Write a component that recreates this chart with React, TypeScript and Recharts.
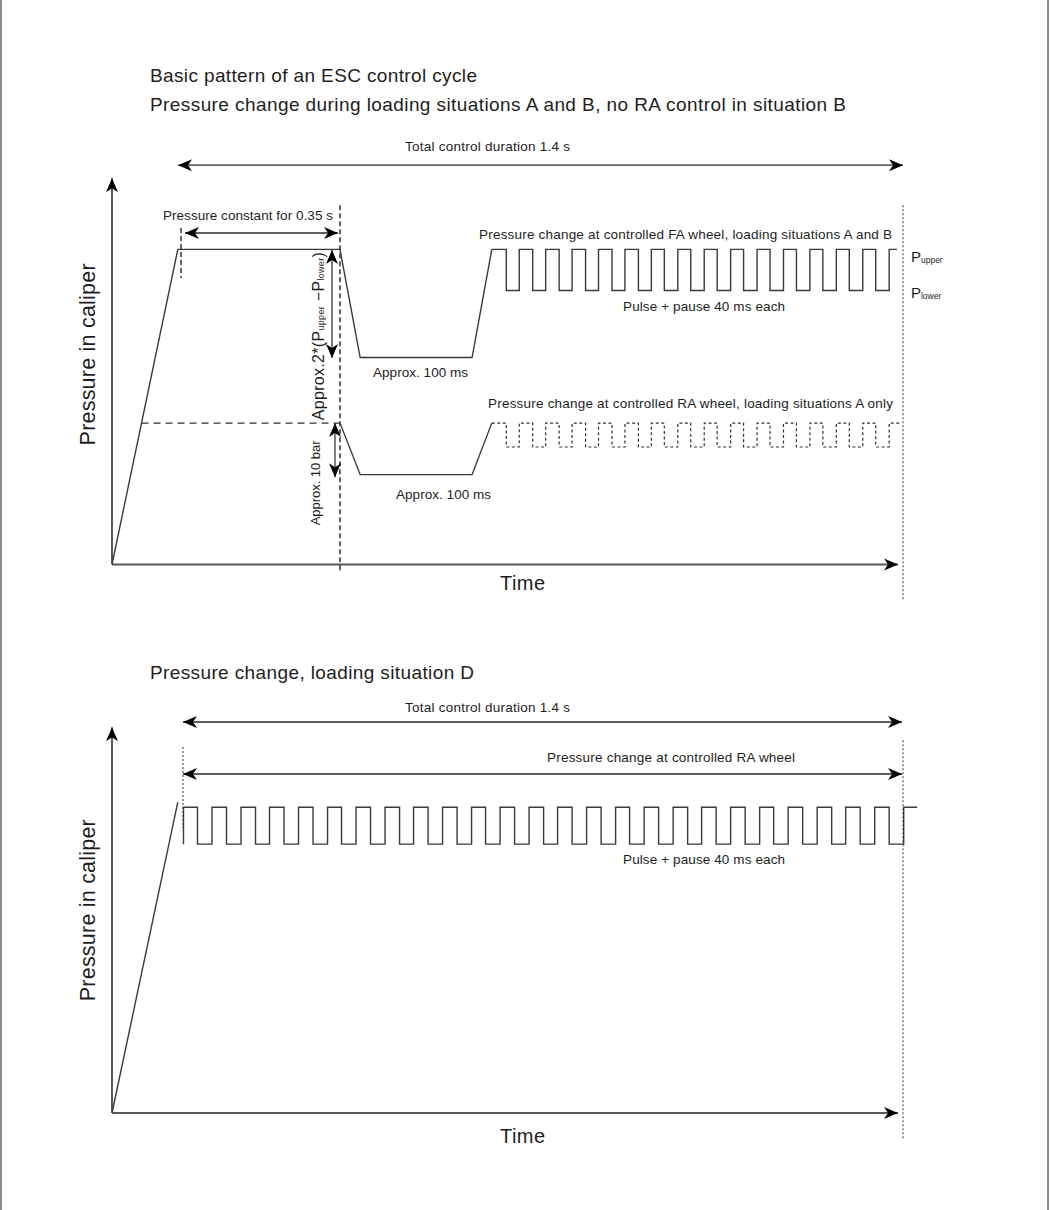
import React from 'react';
import { LineChart, Line, XAxis, YAxis, ReferenceLine, ReferenceDot } from 'recharts';

const FONT = '"Liberation Sans", Arial, Helvetica, sans-serif';
const INK = '#1e1e1e';
const WAVE = '#3a3a3a';
const AXIS = '#5a5a5a';

// ---------- Top diagram (time in ms, pressure in bar) ----------
const faProfileTime = [0, 127, 440, 479, 695, 733];
const faProfileBar = [0, 60.6, 60.6, 39.8, 39.8, 60.6];
// alternating down / up edges of the FA pulse train
const faPulseEdgesMs = [761, 786, 812, 837, 863, 888, 914, 939, 965, 990, 1016, 1041, 1066, 1092, 1117, 1143, 1168, 1194, 1219, 1245, 1270, 1296, 1321, 1347, 1372, 1398, 1423, 1449, 1474, 1500];
const faPulseLevels = [60.6, 52.7]; // P upper, P lower
const faPulseEndMs = 1515;

const raHoldTime = [57, 440];
const raHoldBar = [27.2, 27.2];
const raDipTime = [440, 479, 695, 733];
const raDipBar = [27.2, 17.3, 17.3, 27.2];
const raPulseLevels = [27.2, 22.6];
const raPulseEndMs = 1521;

// ---------- Bottom diagram ----------
const dRampTime = [0, 127];
const dRampBar = [0, 59.8];
// alternating up / down edges of the RA pulse train, situation D
const dPulseEdgesMs = [138, 165, 193, 221, 249, 277, 304, 332, 360, 388, 416, 443, 471, 499, 527, 555, 582, 610, 638, 666, 694, 721, 749, 777, 805, 833, 860, 888, 916, 944, 972, 999, 1027, 1055, 1083, 1111, 1138, 1166, 1194, 1222, 1250, 1277, 1305, 1333, 1361, 1389, 1416, 1444, 1472, 1500, 1528];
const dPulseLevels = [58.8, 51.7];
const dPulseEndMs = 1554;

// ---------- builders ----------
const zip = (ts: number[], ps: number[]) => ts.map((t, i) => ({ t, p: ps[i] }));
const pulsesFromHigh = (start: number, edges: number[], lv: number[], end: number) => [
  { t: start, p: lv[0] },
  ...edges.map((t, i) => ({ t, p: i % 2 === 0 ? lv[1] : lv[0] })),
  { t: end, p: lv[0] },
];
const pulsesFromLow = (edges: number[], lv: number[], end: number) => [
  { t: edges[0], p: lv[1] },
  ...edges.map((t, i) => ({ t, p: i % 2 === 0 ? lv[0] : lv[1] })),
  { t: end, p: lv[0] },
];

const faProfile = zip(faProfileTime, faProfileBar);
const faPulses = pulsesFromHigh(faProfileTime[faProfileTime.length - 1], faPulseEdgesMs, faPulseLevels, faPulseEndMs);
const raHold = zip(raHoldTime, raHoldBar);
const raDip = zip(raDipTime, raDipBar);
const raPulses = pulsesFromHigh(raDipTime[raDipTime.length - 1], faPulseEdgesMs, raPulseLevels, raPulseEndMs);
const dRamp = zip(dRampTime, dRampBar);
const dPulses = pulsesFromLow(dPulseEdgesMs, dPulseLevels, dPulseEndMs);

// ---------- shapes ----------
const headPts = (tx: number, ty: number, ux: number, uy: number) => {
  const L = 14, W = 6, N = 10;
  const bx = tx - ux * L, by = ty - uy * L;
  const nx = -uy, ny = ux;
  const mx = tx - ux * N, my = ty - uy * N;
  return `${tx},${ty} ${bx + nx * W},${by + ny * W} ${mx},${my} ${bx - nx * W},${by - ny * W}`;
};

const arrow = (o: { start?: boolean; end?: boolean; stroke?: string; width?: number }) => (p: any) => {
  const { x1, y1, x2, y2 } = p;
  const dx = x2 - x1, dy = y2 - y1;
  const len = Math.hypot(dx, dy) || 1;
  const ux = dx / len, uy = dy / len;
  return (
    <g>
      <line x1={x1} y1={y1} x2={x2} y2={y2} stroke={o.stroke || '#2a2a2a'} strokeWidth={o.width || 1.4} />
      {o.start && <polygon points={headPts(x1, y1, -ux, -uy)} fill="#000" />}
      {o.end && <polygon points={headPts(x2, y2, ux, uy)} fill="#000" />}
    </g>
  );
};

type LO = { size?: number; anchor?: 'start' | 'middle' | 'end'; rotate?: boolean; length?: number };
const label = (content: React.ReactNode, o: LO = {}) => (p: any) => (
  <text
    x={p.cx}
    y={p.cy}
    fontFamily={FONT}
    fontSize={o.size || 13.5}
    fill={INK}
    textAnchor={o.anchor || 'start'}
    dominantBaseline="central"
    textLength={o.length}
    lengthAdjust={o.length ? 'spacing' : undefined}
    transform={o.rotate ? `rotate(-90 ${p.cx} ${p.cy})` : undefined}
  >
    {content}
  </text>
);

const subText = (main: string, sub: string) => (
  <>
    <tspan fontFamily={FONT} fontSize={15}>{main}</tspan>
    <tspan fontFamily={FONT} fontSize={8.5} dy={4}>{sub}</tspan>
  </>
);

const formula = (
  <>
    <tspan fontFamily={FONT} fontSize={16}>Approx.2*(P</tspan>
    <tspan fontFamily={FONT} fontSize={9} dy={3}>upper</tspan>
    <tspan fontFamily={FONT} fontSize={16} dy={-3}> −P</tspan>
    <tspan fontFamily={FONT} fontSize={9} dy={3}>lower</tspan>
    <tspan fontFamily={FONT} fontSize={16} dy={-3}>)</tspan>
  </>
);

const W = 1050;
const MARGIN_X = { left: 112, right: 109 };
const XDOM: [number, number] = [0, 1600];
const YDOM: [number, number] = [-10, 90];

const Dot = (props: any) => <ReferenceDot r={1} ifOverflow="visible" {...props} />;
const Seg = (props: any) => <ReferenceLine ifOverflow="visible" {...props} />;

function TopChart() {
  return (
    <LineChart width={W} height={620} margin={{ top: 96.5, right: MARGIN_X.right, bottom: 3.5, left: MARGIN_X.left }}>
      <XAxis type="number" dataKey="t" domain={XDOM} hide height={0} allowDataOverflow />
      <YAxis type="number" dataKey="p" domain={YDOM} hide width={0} allowDataOverflow />

      {/* axes */}
      <Seg segment={[{ x: 0, y: 0 }, { x: 0, y: 74.3 }]} shape={arrow({ end: true, stroke: AXIS, width: 2 })} />
      <Seg segment={[{ x: 0, y: 0 }, { x: 1517, y: 0 }]} shape={arrow({ end: true, stroke: AXIS, width: 2 })} />

      {/* guide lines */}
      <Seg segment={[{ x: 133.2, y: 64.7 }, { x: 133.2, y: 55.1 }]} stroke="#000" strokeWidth={1.2} strokeDasharray="5 3" />
      <Seg segment={[{ x: 440, y: 69.1 }, { x: 440, y: -1.4 }]} stroke="#000" strokeWidth={1.2} strokeDasharray="5 3" />
      <Seg segment={[{ x: 1526.7, y: 69.1 }, { x: 1526.7, y: -6.8 }]} stroke="#777" strokeWidth={1.5} strokeDasharray="2 2" />

      {/* dimension arrows */}
      <Seg segment={[{ x: 127.4, y: 76.8 }, { x: 1526.7, y: 76.8 }]} shape={arrow({ start: true, end: true })} />
      <Seg segment={[{ x: 140.9, y: 63.75 }, { x: 436.2, y: 63.75 }]} shape={arrow({ start: true, end: true })} />
      <Seg segment={[{ x: 424.6, y: 60.5 }, { x: 424.6, y: 39.7 }]} shape={arrow({ start: true, end: true, width: 1.2 })} />
      <Seg segment={[{ x: 430.4, y: 27.2 }, { x: 430.4, y: 16.8 }]} shape={arrow({ start: true, end: true, width: 1.2 })} />

      {/* series */}
      <Line data={raHold} dataKey="p" type="linear" stroke="#333" strokeWidth={1.3} strokeDasharray="7 5" dot={false} isAnimationActive={false} />
      <Line data={raDip} dataKey="p" type="linear" stroke={WAVE} strokeWidth={1.3} dot={false} isAnimationActive={false} />
      <Line data={raPulses} dataKey="p" type="stepAfter" stroke="#333" strokeWidth={1.2} strokeDasharray="3 2.5" dot={false} isAnimationActive={false} />
      <Line data={faProfile} dataKey="p" type="linear" stroke={WAVE} strokeWidth={1.4} dot={false} isAnimationActive={false} />
      <Line data={faPulses} dataKey="p" type="stepAfter" stroke={WAVE} strokeWidth={1.4} dot={false} isAnimationActive={false} />

      {/* texts */}
      <Dot x={73.3} y={94.1} shape={label('Basic pattern of an ESC control cycle', { size: 19, length: 327 })} />
      <Dot x={73.3} y={88.5} shape={label('Pressure change during loading situations A and B, no RA control in situation B', { size: 19, length: 696 })} />
      <Dot x={565.5} y={80.3} shape={label('Total control duration 1.4 s', { length: 165 })} />
      <Dot x={98.4} y={67.2} shape={label('Pressure constant for 0.35 s', { length: 170 })} />
      <Dot x={503.8} y={37.0} shape={label('Approx. 100 ms', { length: 95 })} />
      <Dot x={548.2} y={13.4} shape={label('Approx. 100 ms', { length: 95 })} />
      <Dot x={708.4} y={63.4} shape={label('Pressure change at controlled FA wheel, loading situations A and B', { length: 413 })} />
      <Dot x={986.3} y={49.7} shape={label('Pulse + pause 40 ms each', { length: 162 })} />
      <Dot x={725.7} y={30.9} shape={label('Pressure change at controlled RA wheel, loading situations A only', { length: 405 })} />
      <Dot x={1542} y={59.3} shape={label(subText('P', 'upper'))} />
      <Dot x={1542} y={52.4} shape={label(subText('P', 'lower'))} />
      <Dot x={748.9} y={-3.6} shape={label('Time', { size: 20, length: 45 })} />
      <Dot x={-46.3} y={40.4} shape={label('Pressure in caliper', { size: 21.5, anchor: 'middle', rotate: true, length: 182 })} />
      <Dot x={397.6} y={43.9} shape={label(formula, { anchor: 'middle', rotate: true, length: 168 })} />
      <Dot x={391.8} y={15.7} shape={label('Approx. 10 bar', { size: 13, anchor: 'middle', rotate: true, length: 85 })} />
    </LineChart>
  );
}

function BottomChart() {
  return (
    <LineChart width={W} height={590} margin={{ top: 25, right: MARGIN_X.right, bottom: 45, left: MARGIN_X.left }}>
      <XAxis type="number" dataKey="t" domain={XDOM} hide height={0} allowDataOverflow />
      <YAxis type="number" dataKey="p" domain={YDOM} hide width={0} allowDataOverflow />

      <Seg segment={[{ x: 0, y: 0 }, { x: 0, y: 74.2 }]} shape={arrow({ end: true, stroke: AXIS, width: 2 })} />
      <Seg segment={[{ x: 0, y: 0 }, { x: 1517, y: 0 }]} shape={arrow({ end: true, stroke: AXIS, width: 2 })} />

      <Seg segment={[{ x: 137, y: 70.4 }, { x: 137, y: 54.8 }]} stroke="#777" strokeWidth={1.5} strokeDasharray="2 2" />
      <Seg segment={[{ x: 1526.7, y: 71.7 }, { x: 1526.7, y: -5.2 }]} stroke="#777" strokeWidth={1.5} strokeDasharray="2 2" />

      <Seg segment={[{ x: 137, y: 75.2 }, { x: 1524.8, y: 75.2 }]} shape={arrow({ start: true, end: true })} />
      <Seg segment={[{ x: 137, y: 65.2 }, { x: 1524.8, y: 65.2 }]} shape={arrow({ start: true, end: true })} />

      <Line data={dRamp} dataKey="p" type="linear" stroke={WAVE} strokeWidth={1.4} dot={false} isAnimationActive={false} />
      <Line data={dPulses} dataKey="p" type="stepAfter" stroke={WAVE} strokeWidth={1.4} dot={false} isAnimationActive={false} />

      <Dot x={73.3} y={84.8} shape={label('Pressure change, loading situation D', { size: 19, length: 324 })} />
      <Dot x={565.5} y={77.9} shape={label('Total control duration 1.4 s', { length: 165 })} />
      <Dot x={839.6} y={68.3} shape={label('Pressure change at controlled RA wheel', { length: 248 })} />
      <Dot x={986.3} y={48.7} shape={label('Pulse + pause 40 ms each', { length: 162 })} />
      <Dot x={748.9} y={-4.4} shape={label('Time', { size: 20, length: 45 })} />
      <Dot x={-46.3} y={39.0} shape={label('Pressure in caliper', { size: 21.5, anchor: 'middle', rotate: true, length: 182 })} />
    </LineChart>
  );
}

export default function App() {
  return (
    <div style={{ position: 'absolute', left: 0, top: 0, width: 1050, height: 1210, background: '#fff', overflow: 'hidden' }}>
      <div style={{ position: 'absolute', left: 0, top: 0, width: 2, height: 1210, background: '#8c8c8c' }} />
      <div style={{ position: 'absolute', left: 1047, top: 0, width: 2, height: 1210, background: '#8c8c8c' }} />
      <div style={{ position: 'absolute', left: 0, top: 0 }}>
        <TopChart />
      </div>
      <div style={{ position: 'absolute', left: 0, top: 620 }}>
        <BottomChart />
      </div>
    </div>
  );
}
